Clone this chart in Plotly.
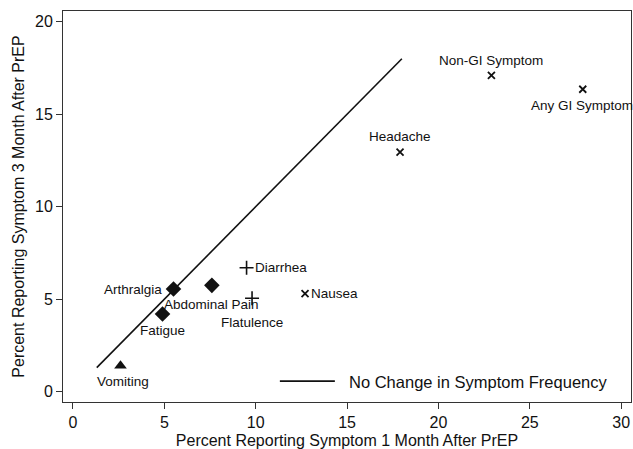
import plotly.graph_objects as go

# ---- data ----
symptoms = ["Vomiting", "Arthralgia", "Abdominal Pain", "Fatigue", "Diarrhea",
            "Flatulence", "Nausea", "Headache", "Non-GI Symptom", "Any GI Symptom"]
pct_1_month = [2.6, 5.5, 7.6, 4.9, 9.5, 9.8, 12.7, 17.9, 22.9, 27.9]
pct_3_month = [1.4, 5.55, 5.75, 4.2, 6.7, 5.05, 5.3, 12.95, 17.1, 16.35]
marker_group = ["triangle", "diamond", "diamond", "diamond", "plus",
                "plus", "x", "x", "x", "x"]
no_change_x = [1.3, 18.0]
no_change_y = [1.3, 18.0]
x_ticks = [0, 5, 10, 15, 20, 25, 30]
y_ticks = [0, 5, 10, 15, 20]

# ---- styles ----
FONT = "Liberation Sans, Arial, Helvetica, sans-serif"
INK = "#111111"
group_style = {
    "triangle": dict(symbol="triangle-up", size=11),
    "diamond": dict(symbol="diamond", size=12),
    "plus": dict(symbol="cross-thin", size=10, line=dict(width=1.6, color=INK)),
    "x": dict(symbol="x-thin", size=7, line=dict(width=1.8, color=INK)),
}
label_place = {
    "Vomiting": dict(xanchor="center", yanchor="top", xshift=2, yshift=-6),
    "Arthralgia": dict(xanchor="right", yanchor="middle", xshift=-9, yshift=0),
    "Abdominal Pain": dict(xanchor="center", yanchor="top", xshift=0, yshift=-10),
    "Fatigue": dict(xanchor="center", yanchor="top", xshift=0, yshift=-7),
    "Diarrhea": dict(xanchor="left", yanchor="middle", xshift=6, yshift=0),
    "Flatulence": dict(xanchor="center", yanchor="top", xshift=0, yshift=-15),
    "Nausea": dict(xanchor="left", yanchor="middle", xshift=4, yshift=0),
    "Headache": dict(xanchor="center", yanchor="bottom", xshift=0, yshift=6),
    "Non-GI Symptom": dict(xanchor="center", yanchor="bottom", xshift=0, yshift=5),
    "Any GI Symptom": dict(xanchor="center", yanchor="top", xshift=-1, yshift=-7),
}

fig = go.Figure()

fig.add_trace(go.Scatter(
    x=no_change_x, y=no_change_y, mode="lines",
    line=dict(color=INK, width=1.6),
    name="\u00a0\u00a0No Change in Symptom Frequency", showlegend=True,
))

for grp in ["triangle", "diamond", "plus", "x"]:
    xs = [x for x, g in zip(pct_1_month, marker_group) if g == grp]
    ys = [y for y, g in zip(pct_3_month, marker_group) if g == grp]
    names = [s for s, g in zip(symptoms, marker_group) if g == grp]
    fig.add_trace(go.Scatter(
        x=xs, y=ys, mode="markers", text=names, showlegend=False,
        marker=dict(color=INK, **group_style[grp]), cliponaxis=False,
    ))

for name, x, y in zip(symptoms, pct_1_month, pct_3_month):
    fig.add_annotation(x=x, y=y, text=name, showarrow=False,
                       font=dict(size=13.5, color=INK, family=FONT),
                       **label_place[name])

axis_common = dict(
    showgrid=False, zeroline=False, showline=True, mirror=True,
    linecolor="#333333", linewidth=1, ticks="outside", ticklen=6,
    tickcolor="#333333", tickfont=dict(size=16, color=INK, family=FONT),
)

fig.update_xaxes(range=[-0.547, 30.54], tickvals=x_ticks,
                 title=dict(text="Percent Reporting Symptom 1 Month After PrEP",
                            font=dict(size=16, color=INK, family=FONT), standoff=4),
                 **axis_common)
fig.update_yaxes(range=[-0.557, 20.58], tickvals=y_ticks,
                 title=dict(text="Percent Reporting Symptom 3 Month After PrEP",
                            font=dict(size=16, color=INK, family=FONT), standoff=6),
                 **axis_common)

fig.update_layout(
    width=633, height=449,
    margin=dict(l=63, r=2, t=11, b=47, autoexpand=False),
    paper_bgcolor="white", plot_bgcolor="white",
    font=dict(family=FONT, color=INK),
    legend=dict(x=0.373, y=0.008, xanchor="left", yanchor="bottom",
                bgcolor="rgba(0,0,0,0)", borderwidth=0, itemwidth=55,
                font=dict(size=16.5, color=INK, family=FONT)),
)

# remove the default page margin so the figure fills the window exactly
fig.write_html(
    "out.html",
    config={"displayModeBar": False},
    post_script="document.body.style.margin='0';document.body.style.overflow='hidden';",
)
